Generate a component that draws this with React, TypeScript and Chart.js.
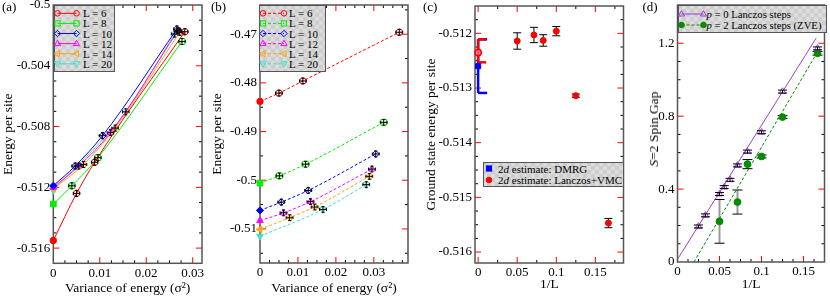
import React, { useEffect, useRef } from 'react';
import { Chart, registerables } from 'chart.js';

Chart.register(...registerables);

const SERIF = "'Liberation Serif', 'Times New Roman', Times, serif";
const H = 299;

const RED = '#ff0000';
const GREEN = '#00ee00';
const BLUE = '#0000ff';
const MAGENTA = '#ff00ff';
const ORANGE = '#ffa500';
const TURQ = '#40e0d0';
const VIOLET = '#9440d8';
const GREEN4 = '#008b00';

// ---------------- Panel (a) ----------------
const aL6X = [0, 0.005, 0.0089, 0.0283];
const aL6Y = [-0.5155, -0.5124, -0.51035, -0.50176];
const aL8X = [0, 0.004, 0.0096, 0.0277];
const aL8Y = [-0.5131, -0.5119, -0.51005, -0.5024];
const aL10X = [0, 0.0047, 0.0106, 0.0266];
const aL10Y = [-0.5119, -0.5106, -0.5086, -0.50158];
const aL12X = [0, 0.0055, 0.0123, 0.0268];
const aL12Y = [-0.512, -0.5106, -0.5084, -0.5017];
const aL14X = [0, 0.0065, 0.0133, 0.0272];
const aL14Y = [-0.5121, -0.5105, -0.5081, -0.5018];
const aL20X = [0, 0.0156, 0.0261];
const aL20Y = [-0.5122, -0.50703, -0.50191];
const aXTicks = [0, 0.01, 0.02, 0.03];
const aYTicks = [-0.516, -0.512, -0.508, -0.504, -0.5];
const aErrX = 0.0007;
const aErrY = 0.0002;

// ---------------- Panel (b) ----------------
const bL6X = [0, 0.005, 0.0113, 0.0367];
const bL6Y = [-0.4838, -0.4821, -0.4796, -0.4696];
const bL8X = [0, 0.0051, 0.012, 0.0326];
const bL8Y = [-0.5006, -0.4991, -0.4967, -0.4881];
const bL10X = [0, 0.0056, 0.0127, 0.0305];
const bL10Y = [-0.5062, -0.5045, -0.5021, -0.4946];
const bL12X = [0, 0.0062, 0.0133, 0.0295];
const bL12Y = [-0.5083, -0.5067, -0.5044, -0.4977];
const bL14X = [0, 0.0078, 0.0144, 0.0288];
const bL14Y = [-0.5101, -0.5077, -0.5055, -0.4992];
const bL20X = [0, 0.0166, 0.028];
const bL20Y = [-0.5115, -0.506, -0.5009];
const bXTicks = [0, 0.01, 0.02, 0.03];
const bYTicks = [-0.51, -0.5, -0.49, -0.48, -0.47];
const bErrX = 0.0009;
const bErrY = 0.0006;

const seriesLabels = ['L = 6', 'L = 8', 'L = 10', 'L = 12', 'L = 14', 'L = 20'];

// ---------------- Panel (c) ----------------
const cInvL = [0.05, 0.0714, 0.0833, 0.1, 0.125, 0.1667];
const cEnergy = [-0.51214, -0.51203, -0.51213, -0.51196, -0.51314, -0.51547];
const cErr = [0.00015, 0.00014, 0.000105, 0.000085, 0.00003, 0.000085];
const cDmrgX = [0];
const cDmrgY = [-0.5126];
const cDmrgErrPlus = [0.00049];
const cDmrgErrMinus = [0.00049];
const cVmcX = [0];
const cVmcY = [-0.51235];
const cVmcErrPlus = [0.00024];
const cVmcErrMinus = [0.00018];
const cXTicks = [0, 0.05, 0.1, 0.15];
const cYTicks = [-0.516, -0.515, -0.514, -0.513, -0.512];

// ---------------- Panel (d) ----------------
const dP0X = [0.025, 0.0333, 0.05, 0.0556, 0.0625, 0.0714, 0.0833, 0.1, 0.125, 0.1667];
const dP0Y = [0.195, 0.256, 0.373, 0.411, 0.451, 0.53, 0.606, 0.712, 0.935, 1.172];
const dP0Err = [0.008, 0.008, 0.008, 0.008, 0.008, 0.008, 0.008, 0.008, 0.008, 0.008];
const dP0FitX = [0, 0.165];
const dP0FitY = [0.015, 1.228];
const dP2X = [0.05, 0.0714, 0.0833, 0.1, 0.125, 0.1667];
const dP2Y = [0.223, 0.329, 0.537, 0.579, 0.795, 1.145];
const dP2Err = [0.12, 0.066, 0.025, 0.008, 0.008, 0.01];
const dP2FitX = [0.0196, 0.1657];
const dP2FitY = [0, 1.145];
const dXTicks = [0, 0.05, 0.1, 0.15];
const dYTicks = [0, 0.4, 0.8, 1.2];

// ---------------- helpers ----------------
const pts = (xs: number[], ys: number[]) => xs.map((x, i) => ({ x, y: ys[i] }));
const fmt = (v: number) => {
  const r = Math.round(v * 1e6) / 1e6;
  return String(r === 0 ? 0 : r);
};

type Marker = 'circle' | 'square' | 'diamond' | 'triUp' | 'triLeft' | 'triDown';
const markerStyle = (m: Marker) => {
  switch (m) {
    case 'circle': return { style: 'circle', rot: 0, r: 3.2 };
    case 'square': return { style: 'rect', rot: 0, r: 4 };
    case 'diamond': return { style: 'rectRot', rot: 0, r: 3.6 };
    case 'triUp': return { style: 'triangle', rot: 0, r: 3.8 };
    case 'triLeft': return { style: 'triangle', rot: -90, r: 3.8 };
    case 'triDown': return { style: 'triangle', rot: 180, r: 3.8 };
  }
};

function drawErrors(chart: any, layer: string) {
  const { ctx } = chart;
  const xs = chart.scales.x;
  const ys = chart.scales.y;
  const dss = chart.data.datasets;
  for (let di = dss.length - 1; di >= 0; di--) {
    const ds = dss[di];
    const eb = ds.errorBars;
    if (!eb || (eb.layer || 'below') !== layer) continue;
    ctx.save();
    ds.data.forEach((p: any, i: number) => {
      const px = xs.getPixelForValue(p.x);
      const py = ys.getPixelForValue(p.y);
      const yp = eb.yPlus ? eb.yPlus[i] : 0;
      const ym = eb.yMinus ? eb.yMinus[i] : 0;
      const xe = eb.x ? eb.x[i] : 0;
      const capL = eb.capLeft ?? eb.cap ?? 2;
      const capR = eb.capRight ?? eb.cap ?? 2;
      const line = (x1: number, y1: number, x2: number, y2: number, c: string, w: number) => {
        ctx.strokeStyle = c;
        ctx.lineWidth = w;
        ctx.beginPath();
        ctx.moveTo(x1, y1);
        ctx.lineTo(x2, y2);
        ctx.stroke();
      };
      if (yp || ym) {
        const y1 = ys.getPixelForValue(p.y + yp);
        const y2 = ys.getPixelForValue(p.y - ym);
        line(px, y1, px, y2, eb.color, eb.width);
        const cc = eb.capColor || eb.color;
        const cw = eb.capWidth || eb.width;
        line(px - capL, y1, px + capR, y1, cc, cw);
        line(px - capL, y2, px + capR, y2, cc, cw);
      }
      if (xe) {
        const x1 = xs.getPixelForValue(p.x - xe);
        const x2 = xs.getPixelForValue(p.x + xe);
        line(x1, py, x2, py, eb.color, eb.width);
        const cc = eb.capColor || eb.color;
        const cw = eb.capWidth || eb.width;
        line(x1, py - capL, x1, py + capR, cc, cw);
        line(x2, py - capL, x2, py + capR, cc, cw);
      }
    });
    ctx.restore();
  }
}

const errorPlugin = {
  id: 'errbars',
  beforeDatasetsDraw(chart: any) { drawErrors(chart, 'below'); },
  afterDatasetsDraw(chart: any) { drawErrors(chart, 'above'); },
};

const framePlugin = {
  id: 'frame',
  beforeDatasetsDraw(chart: any, _args: any, opts: any) {
    const { ctx, chartArea } = chart;
    const { left, right, top, bottom } = chartArea;
    const xs = chart.scales.x;
    const ys = chart.scales.y;
    ctx.save();
    const seg = (x1: number, y1: number, x2: number, y2: number) => {
      ctx.beginPath();
      ctx.moveTo(x1, y1);
      ctx.lineTo(x2, y2);
      ctx.stroke();
    };
    const xTick = (v: number, len: number) => {
      const p = xs.getPixelForValue(v);
      if (p <= left + 1 || p >= right - 1) return;
      seg(p, bottom, p, bottom - len);
      seg(p, top, p, top + len);
    };
    const yTick = (v: number, len: number) => {
      const p = ys.getPixelForValue(v);
      if (p <= top + 1 || p >= bottom - 1) return;
      seg(left, p, left + len, p);
      seg(right, p, right - len, p);
    };
    const majX = xs.ticks.map((t: any) => t.value);
    const majY = ys.ticks.map((t: any) => t.value);
    const isMaj = (arr: number[], v: number, step: number) => arr.some((m) => Math.abs(m - v) < step * 1e-3);
    ctx.strokeStyle = '#000';
    ctx.lineWidth = 1;
    for (let k = Math.ceil(xs.min / opts.xMinor - 1e-9); k * opts.xMinor <= xs.max + 1e-12; k++) {
      const v = k * opts.xMinor;
      if (!isMaj(majX, v, opts.xMinor)) xTick(v, 3);
    }
    for (let k = Math.ceil(ys.min / opts.yMinor - 1e-9); k * opts.yMinor <= ys.max + 1e-12; k++) {
      const v = k * opts.yMinor;
      if (!isMaj(majY, v, opts.yMinor)) yTick(v, 3);
    }
    ctx.strokeStyle = '#ff0000';
    majX.forEach((v: number) => xTick(v, 6));
    majY.forEach((v: number) => yTick(v, 6));
    ctx.strokeStyle = '#555';
    ctx.lineWidth = 1.5;
    ctx.strokeRect(left, top, right - left, bottom - top);
    ctx.restore();
  },
};

type AxisSpec = { min: number; max: number; ticks: number[]; minor: number; title?: string; titlePad?: number };
type Spec = {
  canvasLeft: number;
  canvasWidth: number;
  plot: { l: number; r: number; t: number; b: number };
  x: AxisSpec;
  y: AxisSpec;
  datasets: any[];
};

function axisOpts(a: AxisSpec, which: 'x' | 'y', size: number) {
  return {
    type: 'linear',
    position: which === 'x' ? 'bottom' : 'left',
    min: a.min,
    max: a.max,
    grid: { display: false, drawTicks: false },
    border: { display: false },
    ticks: {
      color: '#000',
      font: { family: SERIF, size: 13 },
      padding: which === 'x' ? 2 : 3,
      autoSkip: false,
      maxRotation: 0,
      minRotation: 0,
      callback: (v: any) => fmt(Number(v)),
    },
    afterBuildTicks: (s: any) => {
      s.ticks = a.ticks.map((v) => ({ value: v }));
    },
    afterFit: (s: any) => {
      if (which === 'x') s.height = size;
      else s.width = size;
      s.paddingLeft = 0;
      s.paddingRight = 0;
      s.paddingTop = 0;
      s.paddingBottom = 0;
    },
    title: a.title
      ? {
          display: true,
          text: a.title,
          color: '#000',
          font: { family: SERIF, size: 13.5 },
          padding: which === 'x' ? { top: 0, bottom: a.titlePad ?? 0 } : { top: a.titlePad ?? 0, bottom: 0 },
        }
      : { display: false },
  };
}

function buildConfig(spec: Spec): any {
  const { plot, canvasLeft, canvasWidth } = spec;
  const plotL = plot.l - canvasLeft;
  const plotR = plot.r - canvasLeft;
  return {
    type: 'scatter',
    data: { datasets: spec.datasets },
    options: {
      animation: false,
      responsive: false,
      events: [],
      layout: { padding: { left: 0, top: plot.t, right: canvasWidth - plotR, bottom: 0 } },
      plugins: {
        legend: { display: false },
        tooltip: { enabled: false },
        frame: { xMinor: spec.x.minor, yMinor: spec.y.minor },
      },
      scales: {
        x: axisOpts(spec.x, 'x', H - plot.b),
        y: axisOpts(spec.y, 'y', plotL),
      },
    },
    plugins: [framePlugin, errorPlugin],
  };
}

function seriesDs(xs: number[], ys: number[], color: string, marker: Marker, dashed: boolean, ex: number, ey: number) {
  const st = markerStyle(marker)!;
  return {
    data: pts(xs, ys),
    showLine: true,
    borderColor: color,
    borderWidth: 1,
    borderDash: dashed ? [3, 2] : [],
    cubicInterpolationMode: 'monotone',
    pointStyle: st.style,
    pointRotation: st.rot,
    pointRadius: st.r,
    pointBorderWidth: 1,
    pointBorderColor: color,
    pointBackgroundColor: xs.map((x) => (x === 0 ? color : 'rgba(0,0,0,0)')),
    clip: false,
    errorBars: {
      layer: 'above',
      x: xs.map((x) => (x > 0 ? ex : 0)),
      yPlus: xs.map((x) => (x > 0 ? ey : 0)),
      yMinus: xs.map((x) => (x > 0 ? ey : 0)),
      color: '#000',
      width: 1,
      cap: 1.5,
    },
  };
}

const seriesColors = [RED, GREEN, BLUE, MAGENTA, ORANGE, TURQ];
const seriesMarkers: Marker[] = ['circle', 'square', 'diamond', 'triUp', 'triLeft', 'triDown'];

const specA: Spec = {
  canvasLeft: 0,
  canvasWidth: 207,
  plot: { l: 53.3, r: 202.7, t: 5, b: 263.3 },
  x: { min: 0, max: 0.032, ticks: aXTicks, minor: 0.0025, title: 'Variance of energy (\u03c3\u00b2)', titlePad: 2 },
  y: { min: -0.517, max: -0.5, ticks: aYTicks, minor: 0.001, title: 'Energy per site', titlePad: 0 },
  datasets: [
    [aL6X, aL6Y], [aL8X, aL8Y], [aL10X, aL10Y], [aL12X, aL12Y], [aL14X, aL14Y], [aL20X, aL20Y],
  ].map(([xs, ys], i) => seriesDs(xs, ys, seriesColors[i], seriesMarkers[i], false, aErrX, aErrY)),
};

const specB: Spec = {
  canvasLeft: 207,
  canvasWidth: 208,
  plot: { l: 260, r: 408, t: 5, b: 263 },
  x: { min: 0, max: 0.039, ticks: bXTicks, minor: 0.0025, title: 'Variance of energy (\u03c3\u00b2)', titlePad: 2 },
  y: { min: -0.517, max: -0.464, ticks: bYTicks, minor: 0.005, title: 'Energy per site', titlePad: 2.4 },
  datasets: [
    [bL6X, bL6Y], [bL8X, bL8Y], [bL10X, bL10Y], [bL12X, bL12Y], [bL14X, bL14Y], [bL20X, bL20Y],
  ].map(([xs, ys], i) => seriesDs(xs, ys, seriesColors[i], seriesMarkers[i], true, bErrX, bErrY)),
};

const specC: Spec = {
  canvasLeft: 415,
  canvasWidth: 215,
  plot: { l: 475, r: 623.5, t: 6, b: 263 },
  x: { min: -0.004, max: 0.186, ticks: cXTicks, minor: 0.025, title: '1/L', titlePad: 6.9 },
  y: { min: -0.5162, max: -0.5115, ticks: cYTicks, minor: 0.00025, title: 'Ground state energy per site', titlePad: 7.9 },
  datasets: [
    {
      data: pts(cInvL, cEnergy),
      showLine: false,
      pointStyle: 'circle',
      pointRadius: 3,
      pointBorderWidth: 1,
      pointBorderColor: RED,
      pointBackgroundColor: RED,
      clip: false,
      errorBars: { layer: 'below', yPlus: cErr, yMinus: cErr, color: '#000', width: 1, cap: 4 },
    },
    {
      data: pts(cVmcX, cVmcY),
      showLine: false,
      pointStyle: 'circle',
      pointRadius: 3.2,
      pointBorderWidth: 1.5,
      pointBorderColor: RED,
      pointBackgroundColor: 'rgba(255,120,120,0.7)',
      clip: false,
      errorBars: { layer: 'below', yPlus: cVmcErrPlus, yMinus: cVmcErrMinus, color: RED, width: 2.5, capLeft: 0, capRight: 8 },
    },
    {
      data: pts(cDmrgX, cDmrgY),
      showLine: false,
      pointStyle: 'rect',
      pointRadius: 3.6,
      pointBorderWidth: 1,
      pointBorderColor: BLUE,
      pointBackgroundColor: BLUE,
      clip: false,
      errorBars: { layer: 'below', yPlus: cDmrgErrPlus, yMinus: cDmrgErrMinus, color: BLUE, width: 2.5, capLeft: 0, capRight: 9 },
    },
  ],
};

const specD: Spec = {
  canvasLeft: 630,
  canvasWidth: 200,
  plot: { l: 677.5, r: 824.5, t: 5, b: 262 },
  x: { min: 0, max: 0.175, ticks: dXTicks, minor: 0.0125, title: '1/L', titlePad: 6.9 },
  y: { min: 0, max: 1.41, ticks: dYTicks, minor: 0.1 },
  datasets: [
    {
      data: pts(dP0X, dP0Y),
      showLine: false,
      pointStyle: 'triangle',
      pointRadius: 3.8,
      pointBorderWidth: 1,
      pointBorderColor: VIOLET,
      pointBackgroundColor: 'rgba(0,0,0,0)',
      clip: false,
      errorBars: { layer: 'above', yPlus: dP0Err, yMinus: dP0Err, color: '#000', width: 1, cap: 4.5 },
    },
    {
      data: pts(dP0FitX, dP0FitY),
      showLine: true,
      borderColor: VIOLET,
      borderWidth: 1,
      pointRadius: 0,
      clip: false,
    },
    {
      data: pts(dP2X, dP2Y),
      showLine: false,
      pointStyle: 'circle',
      pointRadius: 3.4,
      pointBorderWidth: 1,
      pointBorderColor: GREEN4,
      pointBackgroundColor: GREEN4,
      clip: false,
      errorBars: { layer: 'below', yPlus: dP2Err, yMinus: dP2Err, color: '#9a9a9a', width: 2, capColor: '#000', capWidth: 1, cap: 5 },
    },
    {
      data: pts(dP2FitX, dP2FitY),
      showLine: true,
      borderColor: GREEN4,
      borderWidth: 1,
      borderDash: [3, 2],
      pointRadius: 0,
      clip: false,
    },
  ],
};

function ChartPanel({ spec }: { spec: Spec }) {
  const ref = useRef<HTMLCanvasElement>(null);
  useEffect(() => {
    const chart = new Chart(ref.current as HTMLCanvasElement, buildConfig(spec));
    return () => chart.destroy();
  }, []);
  return (
    <canvas
      ref={ref}
      width={spec.canvasWidth}
      height={H}
      style={{ position: 'absolute', left: spec.canvasLeft, top: 0, width: spec.canvasWidth, height: H }}
    />
  );
}

// ---------------- legends (HTML/SVG overlays) ----------------
function MarkerSvg({ m, cx, cy, color, fill }: { m: Marker; cx: number; cy: number; color: string; fill: boolean }) {
  const f = fill ? color : 'none';
  const common = { stroke: color, strokeWidth: 1, fill: f };
  const r = 2.8;
  const poly = (ptsArr: number[][]) => (
    <polygon points={ptsArr.map(([x, y]) => `${cx + x},${cy + y}`).join(' ')} {...common} />
  );
  switch (m) {
    case 'circle': return <circle cx={cx} cy={cy} r={r} {...common} />;
    case 'square': return <rect x={cx - 2.6} y={cy - 2.6} width={5.2} height={5.2} {...common} />;
    case 'diamond': return poly([[0, -3.2], [3.2, 0], [0, 3.2], [-3.2, 0]]);
    case 'triUp': return poly([[0, -3.4], [3.1, 2], [-3.1, 2]]);
    case 'triLeft': return poly([[-3.4, 0], [2, -3.1], [2, 3.1]]);
    case 'triDown': return poly([[0, 3.4], [3.1, -2], [-3.1, -2]]);
  }
}

type LegendEntry = { label: React.ReactNode; color: string; marker: Marker; fill: boolean; line: 'solid' | 'dashed' | null };

function Legend({
  box, rows, sx1, sx2, textX, entries, fontSize = 11,
}: {
  box: { l: number; t: number; w: number; h: number };
  rows: number[];
  sx1: number;
  sx2: number | null;
  textX: number;
  entries: LegendEntry[];
  fontSize?: number;
}) {
  const lh = 12;
  return (
    <div
      style={{
        position: 'absolute',
        left: box.l,
        top: box.t,
        width: box.w,
        height: box.h,
        backgroundColor: '#d2d2d2',
        backgroundImage: 'repeating-conic-gradient(#dcdcdc 0% 25%, #cdcdcd 0% 50%)',
        backgroundSize: '8px 8px',
        boxShadow: 'inset 0 0 0 1px #555',
      }}
    >
      <svg width={box.w} height={box.h} style={{ position: 'absolute', left: 0, top: 0 }}>
        {entries.map((e, i) => {
          const cy = rows[i] - box.t;
          const x1 = sx1 - box.l;
          const x2 = sx2 === null ? null : sx2 - box.l;
          return (
            <g key={i}>
              {e.line && x2 !== null && (
                <line x1={x1} y1={cy} x2={x2} y2={cy} stroke={e.color} strokeWidth={1} strokeDasharray={e.line === 'dashed' ? '3 2' : undefined} />
              )}
              <MarkerSvg m={e.marker} cx={x1} cy={cy} color={e.color} fill={e.fill} />
              {x2 !== null && <MarkerSvg m={e.marker} cx={x2} cy={cy} color={e.color} fill={e.fill} />}
            </g>
          );
        })}
      </svg>
      {entries.map((e, i) => (
        <div
          key={i}
          style={{
            position: 'absolute',
            left: textX - box.l,
            top: rows[i] - box.t - lh / 2,
            lineHeight: `${lh}px`,
            fontSize,
            fontFamily: SERIF,
            color: '#000',
            whiteSpace: 'nowrap',
          }}
        >
          {e.label}
        </div>
      ))}
    </div>
  );
}

const abRows = [13.3, 23.4, 33.5, 43.6, 53.7, 63.8];

const legendA: LegendEntry[] = seriesLabels.map((label, i) => ({
  label, color: seriesColors[i], marker: seriesMarkers[i], fill: false, line: 'solid',
}));
const legendB: LegendEntry[] = seriesLabels.map((label, i) => ({
  label, color: seriesColors[i], marker: seriesMarkers[i], fill: false, line: 'dashed',
}));
const legendC: LegendEntry[] = [
  { label: <span>2<i>d</i> estimate: DMRG</span>, color: BLUE, marker: 'square', fill: true, line: null },
  { label: <span>2<i>d</i> estimate: Lanczos+VMC</span>, color: RED, marker: 'circle', fill: true, line: null },
];
const legendD: LegendEntry[] = [
  { label: <span><i>p</i> = 0 Lanczos steps</span>, color: VIOLET, marker: 'triUp', fill: false, line: 'solid' },
  { label: <span><i>p</i> = 2 Lanczos steps (ZVE)</span>, color: GREEN4, marker: 'circle', fill: true, line: 'dashed' },
];

const panelLabel = (text: string, left: number) => (
  <div
    style={{
      position: 'absolute',
      left,
      top: 0,
      fontFamily: SERIF,
      fontSize: 13,
      lineHeight: '14px',
      color: '#000',
    }}
  >
    {text}
  </div>
);

export default function App() {
  return (
    <div style={{ position: 'absolute', left: 0, top: 0, width: 830, height: H, overflow: 'hidden', background: '#fff' }}>
      <ChartPanel spec={specA} />
      <ChartPanel spec={specB} />
      <ChartPanel spec={specC} />
      <ChartPanel spec={specD} />
      <Legend box={{ l: 54, t: 5, w: 61, h: 67 }} rows={abRows} sx1={57.5} sx2={76.5} textX={83} entries={legendA} />
      <Legend box={{ l: 259, t: 5, w: 67, h: 67 }} rows={abRows} sx1={263} sx2={284} textX={289} entries={legendB} />
      <Legend box={{ l: 483, t: 162, w: 141, h: 24.5 }} rows={[168.5, 180]} sx1={489} sx2={null} textX={498} entries={legendC} />
      <Legend box={{ l: 677.5, t: 5, w: 149.5, h: 28.3 }} rows={[14, 25]} sx1={681} sx2={703} textX={706.5} entries={legendD} fontSize={10.7} />
      {panelLabel('(a)', 2)}
      {panelLabel('(b)', 211)}
      {panelLabel('(c)', 423)}
      {panelLabel('(d)', 642.5)}
      <div
        style={{
          position: 'absolute',
          left: 653.5,
          top: 128.5,
          transform: 'translate(-50%, -50%) rotate(-90deg)',
          fontFamily: SERIF,
          fontSize: 13.5,
          lineHeight: '16px',
          whiteSpace: 'nowrap',
          color: '#000',
        }}
      >
        <i>S</i>=2 Spin Gap
      </div>
    </div>
  );
}
